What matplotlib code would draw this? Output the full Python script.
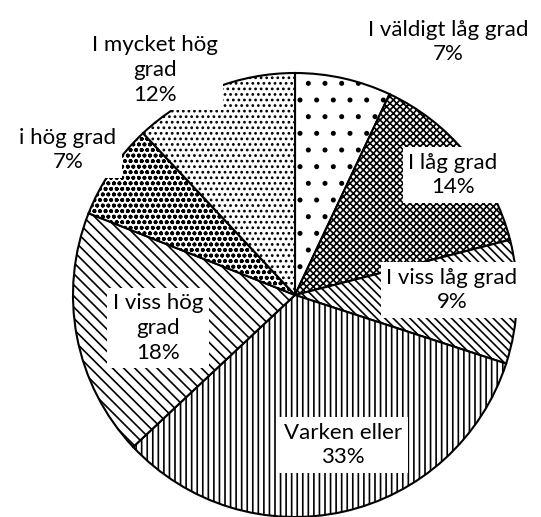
import matplotlib.pyplot as plt

plt.rcParams["font.family"] = ["Lato", "DejaVu Sans"]
plt.rcParams["hatch.linewidth"] = 1.2

# Data (clockwise from 12 o'clock)
labels = ["I väldigt låg grad", "I låg grad", "I viss låg grad", "Varken eller",
          "I viss hög grad", "i hög grad", "I mycket hög grad"]
values = [7, 14, 9, 33, 18, 7, 12]
hatches = [".", "xxxxx", "\\\\\\\\", "|||", "\\\\\\", "ooo", "..."]

# label positions in pixels (centre of the text box)
label_px = [(448, 42), (453, 175), (452, 290), (343, 445), (158, 328), (68, 150), (155, 70)]
label_text = ["I väldigt låg grad\n7%", "I låg grad\n14%", "I viss låg grad\n9%",
              "Varken eller\n33%", "I viss hög\ngrad\n18%", "i hög grad\n7%",
              "I mycket hög\ngrad\n12%"]

W, H = 541, 517
cx, cy, R = 295, 295, 222

fig = plt.figure(figsize=(W / 100, H / 100), dpi=100)
ax = fig.add_axes([(cx - R) / W, (H - cy - R) / H, 2 * R / W, 2 * R / H])

wedges, _ = ax.pie(values, startangle=90, counterclock=False, radius=1,
                   colors=["white"] * len(values),
                   wedgeprops=dict(edgecolor="black", linewidth=1.5))
for w, h in zip(wedges, hatches):
    w.set_hatch(h)

ax.set_xlim(-1, 1)
ax.set_ylim(-1, 1)
ax.set_aspect("equal")
ax.axis("off")

for (px, py), txt in zip(label_px, label_text):
    ax.text((px - cx) / R, (cy - py) / R, txt, ha="center", va="center",
            fontsize=16, linespacing=1.3,
            bbox=dict(facecolor="white", edgecolor="none", pad=4))

# leader line for the small top slice
ax.plot([(372 - cx) / R, (393 - cx) / R], [(cy - 72) / R, (cy - 60) / R],
        color="black", linewidth=1)

fig.savefig("out.png", dpi=100)
